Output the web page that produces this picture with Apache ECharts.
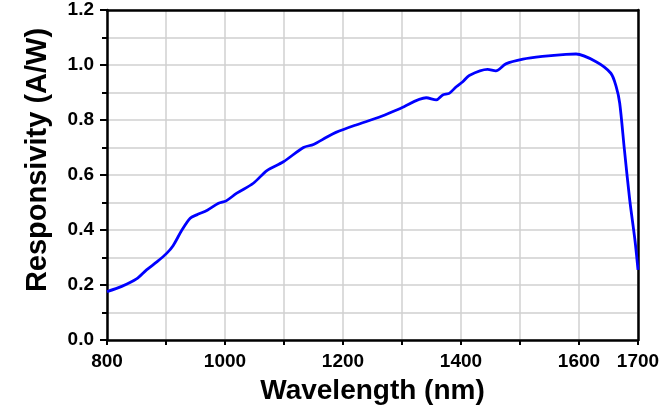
<!DOCTYPE html>
<html>
<head>
<meta charset="utf-8">
<script src="https://cdn.jsdelivr.net/npm/echarts@6/dist/echarts.min.js"></script>
<style>
html,body{margin:0;padding:0;background:#fff;}
#main{width:672px;height:413px;}
</style>
</head>
<body>
<div id="main"></div>
<script>
// wavelength (nm) and responsivity (A/W)
var wavelengths = [800, 825, 850, 867, 885, 901, 912, 927, 941, 952, 970, 989, 1002, 1020, 1048, 1071, 1099, 1133, 1150, 1172, 1188, 1222, 1261, 1298, 1341, 1358, 1369, 1380, 1392, 1403, 1414, 1445, 1459, 1476, 1505, 1538, 1578, 1595, 1629, 1654, 1663, 1669, 1677, 1686, 1695, 1700];
var responsivity = [0.176, 0.195, 0.222, 0.255, 0.285, 0.315, 0.343, 0.400, 0.443, 0.455, 0.472, 0.497, 0.506, 0.534, 0.570, 0.616, 0.648, 0.700, 0.711, 0.737, 0.755, 0.782, 0.810, 0.843, 0.881, 0.873, 0.891, 0.897, 0.921, 0.939, 0.962, 0.984, 0.979, 1.004, 1.021, 1.031, 1.039, 1.040, 1.012, 0.970, 0.921, 0.861, 0.691, 0.509, 0.360, 0.255];
var xLabels = [800, 1000, 1200, 1400, 1600, 1700];

var dom = document.getElementById("main");
var myChart = echarts.init(dom);
var font = "'Liberation Sans', Arial, sans-serif";

var points = wavelengths.map(function (w, i) { return [w, responsivity[i]]; });

// plain black frame lines for the top and right sides
var frameAxis = {
    axisLine: { show: true, onZero: false, lineStyle: { color: '#000', width: 2.5 } },
    axisTick: { show: false },
    axisLabel: { show: false },
    splitLine: { show: false }
};

var option = {
    animation: false,
    grid: { left: 107, right: 34, top: 10, bottom: 73 },
    xAxis: [{
        type: 'value',
        min: 800,
        max: 1700,
        interval: 100,
        name: 'Wavelength (nm)',
        nameLocation: 'middle',
        nameGap: 37,
        nameTextStyle: { fontFamily: font, fontWeight: 'bold', fontSize: 28, color: '#000' },
        axisLine: { onZero: false, lineStyle: { color: '#000', width: 2.5 } },
        axisTick: { lineStyle: { color: '#000', width: 2 }, length: 5 },
        axisLabel: {
            fontFamily: font, fontWeight: 'bold', fontSize: 19, color: '#000', margin: 12,
            formatter: function (v) { return xLabels.indexOf(v) >= 0 ? String(v) : ''; }
        },
        splitLine: { lineStyle: { color: '#d0d0d0', width: 1.5 } }
    }, Object.assign({ type: 'value', position: 'top', min: 800, max: 1700 }, frameAxis)],
    yAxis: [{
        type: 'value',
        min: 0,
        max: 1.2,
        interval: 0.2,
        name: 'Responsivity (A/W)',
        nameLocation: 'middle',
        nameGap: 55,
        nameTextStyle: { fontFamily: font, fontWeight: 'bold', fontSize: 29, color: '#000', padding: [0, 0, 0, 30] },
        axisLine: { show: true, onZero: false, lineStyle: { color: '#000', width: 2.5 } },
        axisTick: { show: true, lineStyle: { color: '#000', width: 2 }, length: 7 },
        minorTick: { show: true, splitNumber: 2, length: 5, lineStyle: { color: '#000', width: 2 } },
        minorSplitLine: { show: true, lineStyle: { color: '#d0d0d0', width: 1.5 } },
        axisLabel: {
            fontFamily: font, fontWeight: 'bold', fontSize: 19, color: '#000', margin: 13,
            formatter: function (v) { return v.toFixed(1); }
        },
        splitLine: { lineStyle: { color: '#d0d0d0', width: 1.5 } }
    }, Object.assign({ type: 'value', position: 'right', min: 0, max: 1.2 }, frameAxis)],
    series: [{
        type: 'line',
        data: points,
        smooth: 0.3,
        showSymbol: false,
        lineStyle: { color: '#0000ff', width: 2.8 }
    }]
};
myChart.setOption(option);
</script>
</body>
</html>
